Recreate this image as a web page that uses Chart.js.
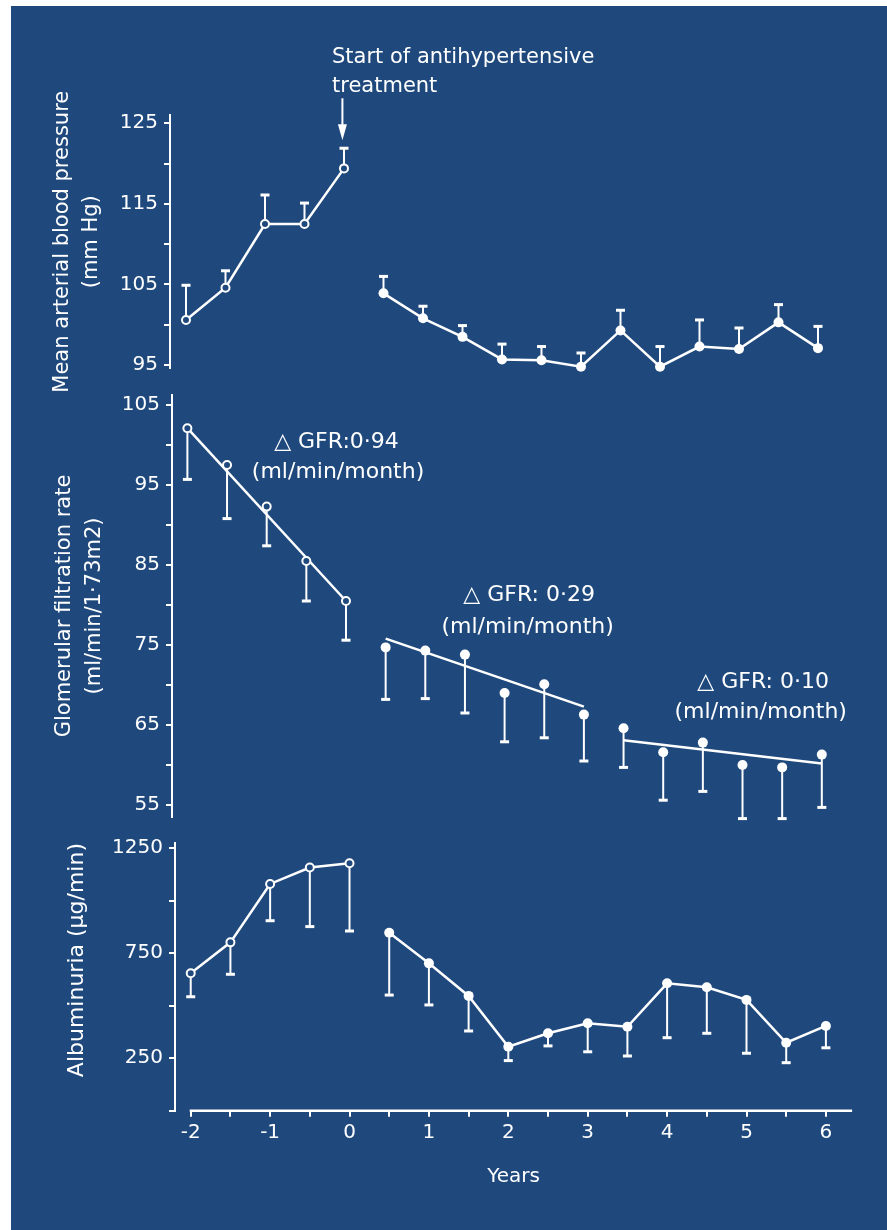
<!DOCTYPE html>
<html>
<head>
<meta charset="utf-8">
<script src="https://cdn.jsdelivr.net/npm/chart.js@4.4.1/dist/chart.umd.min.js"></script>
<style>
  html, body { margin: 0; padding: 0; background: #fff; }
  #page { position: relative; width: 887px; height: 1230px; overflow: hidden; }
  #sheet { position: absolute; left: 11px; top: 6px; right: 0; bottom: 0; background: #1f497d; }
  canvas { position: absolute; left: 0; }
</style>
</head>
<body>
<div id="page">
  <div id="sheet"></div>
  <canvas id="mapChart" width="887" height="392" style="top:0"></canvas>
  <canvas id="gfrChart" width="887" height="470" style="top:370px"></canvas>
  <canvas id="albChart" width="887" height="415" style="top:815px"></canvas>
</div>
<script>
const WHITE = '#ffffff';
const BLUE = '#1f497d';

// years
const yearsPre = [-2, -1.5, -1, -0.5, 0];
const yearsPost = [0.5, 1, 1.5, 2, 2.5, 3, 3.5, 4, 4.5, 5, 5.5, 6];
const yearsGfr1 = [0.5, 1, 1.5, 2, 2.5, 3];
const yearsGfr2 = [3.5, 4, 4.5, 5, 5.5, 6];

// tick marks and the ones that carry a label
const yearTicks = [-2, -1.5, -1, -0.5, 0, 0.5, 1, 1.5, 2, 2.5, 3, 3.5, 4, 4.5, 5, 5.5, 6];
const yearLabels = [-2, -1, 0, 1, 2, 3, 4, 5, 6];
const mapTicks = [95, 100, 105, 110, 115, 120, 125];
const mapLabels = [95, 105, 115, 125];
const gfrTicks = [55, 60, 65, 70, 75, 80, 85, 90, 95, 100, 105];
const gfrLabels = [55, 65, 75, 85, 95, 105];
const albTicks = [0, 250, 500, 750, 1000, 1250];
const albLabels = [250, 750, 1250];

// mean arterial blood pressure (mm Hg), error bar ends (upper)
const mapPre = [100.6, 104.6, 112.5, 112.5, 119.4];
const mapPreTop = [104.9, 106.7, 116.1, 115.1, 121.9];
const mapPost = [103.9, 100.8, 98.5, 95.7, 95.6, 94.8, 99.3, 94.8, 97.3, 97.0, 100.3, 97.1];
const mapPostTop = [106.0, 102.3, 99.9, 97.6, 97.3, 96.5, 101.8, 97.3, 100.6, 99.6, 102.5, 99.8];

// GFR (ml/min/1.73m2), error bar ends (lower)
const gfrPre = [102.1, 97.5, 92.3, 85.5, 80.5];
const gfrPreLow = [95.7, 90.8, 87.4, 80.5, 75.6];
const gfr1 = [74.7, 74.3, 73.8, 69.0, 70.1, 66.3];
const gfr1Low = [68.2, 68.3, 66.5, 62.9, 63.4, 60.5];
const gfr2 = [64.6, 61.6, 62.8, 60.0, 59.7, 61.3];
const gfr2Low = [59.7, 55.6, 56.7, 53.3, 53.3, 54.7];

// regression lines (start, end)
const fitPreX = [-2, 0];
const fitPreY = [102.1, 80.5];
const fit1X = [0.5, 3];
const fit1Y = [75.8, 67.3];
const fit2X = [3.5, 6];
const fit2Y = [63.1, 60.2];

// albuminuria (ug/min), error bar ends (lower)
const albPre = [655, 802, 1080, 1158, 1179];
const albPreLow = [543, 650, 905, 877, 856];
const albPost = [848, 702, 547, 305, 369, 417, 400, 607, 588, 528, 324, 404];
const albPostLow = [551, 504, 380, 239, 309, 281, 261, 348, 369, 274, 229, 300];

Chart.defaults.font.family = '"DejaVu Sans", sans-serif';
Chart.defaults.color = WHITE;
Chart.defaults.animation = false;

const pts = (xs, ys) => xs.map((x, i) => ({x: x, y: ys[i]}));

const openStyle = {
    pointRadius: 4, pointBorderWidth: 2,
    pointBackgroundColor: BLUE, pointBorderColor: WHITE,
    borderColor: WHITE, borderWidth: 2.5, clip: false
};
const fullStyle = {
    pointRadius: 5, pointBorderWidth: 0,
    pointBackgroundColor: WHITE, pointBorderColor: WHITE,
    borderColor: WHITE, borderWidth: 2.5, clip: false
};
const fitStyle = {
    pointRadius: 0, borderColor: WHITE, borderWidth: 2.5, showLine: true, clip: false
};

// vertical SD bars with a small cap, drawn under the markers
const errorBars = {
    id: 'errorBars',
    beforeDatasetsDraw(chart) {
        const {ctx, scales: {y}} = chart;
        ctx.save();
        ctx.strokeStyle = WHITE;
        chart.data.datasets.forEach((ds, i) => {
            if (!ds.errEnd) return;
            chart.getDatasetMeta(i).data.forEach((pt, j) => {
                const yEnd = y.getPixelForValue(ds.errEnd[j]);
                ctx.lineWidth = 2;
                ctx.beginPath();
                ctx.moveTo(pt.x, pt.y);
                ctx.lineTo(pt.x, yEnd);
                ctx.stroke();
                ctx.lineWidth = 3;
                ctx.beginPath();
                ctx.moveTo(pt.x - 4.5, yEnd);
                ctx.lineTo(pt.x + 4.5, yEnd);
                ctx.stroke();
            });
        });
        ctx.restore();
    }
};

// text notes placed in data units
const makeNotes = (items, font, arrow) => ({
    id: 'notes',
    afterDraw(chart) {
        const {ctx, scales: {x, y}} = chart;
        ctx.save();
        ctx.fillStyle = WHITE;
        ctx.strokeStyle = WHITE;
        ctx.font = font;
        ctx.textBaseline = 'middle';
        items.forEach(n => {
            ctx.textAlign = n.align || 'center';
            ctx.fillText(n.text, x.getPixelForValue(n.x), y.getPixelForValue(n.y));
        });
        if (arrow) {
            const ax = x.getPixelForValue(arrow.x);
            const y1 = y.getPixelForValue(arrow.from);
            const y2 = y.getPixelForValue(arrow.to);
            ctx.lineWidth = 2;
            ctx.beginPath();
            ctx.moveTo(ax, y1);
            ctx.lineTo(ax, y2 - 10);
            ctx.stroke();
            ctx.beginPath();
            ctx.moveTo(ax - 4.5, y2 - 16);
            ctx.lineTo(ax + 4.5, y2 - 16);
            ctx.lineTo(ax, y2);
            ctx.closePath();
            ctx.fill();
        }
        ctx.restore();
    }
});

// x axis line starts at year -2, not at the y axis
const baseLine = {
    id: 'baseLine',
    afterDraw(chart) {
        const {ctx, chartArea, scales: {x}} = chart;
        ctx.save();
        ctx.strokeStyle = WHITE;
        ctx.lineWidth = 2.5;
        ctx.beginPath();
        ctx.moveTo(x.getPixelForValue(-2) - 1, chartArea.bottom);
        ctx.lineTo(chartArea.right, chartArea.bottom);
        ctx.stroke();
        ctx.restore();
    }
};

const yAxis = (min, max, tickList, labelList, title, titleFont, width, titleAlign) => ({
    type: 'linear', min: min, max: max,
    afterBuildTicks: s => { s.ticks = tickList.map(v => ({value: v})); },
    ticks: {
        autoSkip: false, color: WHITE, font: {size: 20}, padding: 6,
        callback: v => (labelList.includes(v) ? String(v) : '')
    },
    grid: {drawOnChartArea: false, color: WHITE, lineWidth: 2, tickLength: 6},
    border: {color: WHITE, width: 2},
    title: {display: true, text: title, color: WHITE, font: titleFont, padding: 0,
        align: titleAlign || 'center'},
    afterFit: s => { s.width = width; }
});

const hiddenX = (min, max) => ({type: 'linear', display: false, min: min, max: max});

const baseOptions = (padding, scales) => ({
    responsive: false,
    events: [],
    layout: {padding: padding},
    plugins: {legend: {display: false}, tooltip: {enabled: false}},
    scales: scales
});

// top panel: blood pressure
new Chart(document.getElementById('mapChart'), {
    type: 'scatter',
    data: {
        datasets: [
            {...openStyle, data: pts(yearsPre, mapPre), errEnd: mapPreTop, showLine: true},
            {...fullStyle, data: pts(yearsPost, mapPost), errEnd: mapPostTop, showLine: true}
        ]
    },
    options: baseOptions({left: 48.5, top: 115.2, right: 45.3, bottom: 23.7}, {
        x: hiddenX(-2.2025, 6.3),
        y: yAxis(94.6, 126, mapTicks, mapLabels,
            ['Mean arterial blood pressure', '(mm Hg)'], {size: 21, lineHeight: 1.381}, 121.5)
    }),
    plugins: [errorBars, makeNotes([
        {x: -0.152, y: 133.1, text: 'Start of antihypertensive', align: 'left'},
        {x: -0.152, y: 129.5, text: 'treatment', align: 'left'}
    ], '21px "DejaVu Sans"', {x: -0.02, from: 128.1, to: 122.9})]
});

// middle panel: GFR
new Chart(document.getElementById('gfrChart'), {
    type: 'scatter',
    data: {
        datasets: [
            {...openStyle, data: pts(yearsPre, gfrPre), errEnd: gfrPreLow},
            {...fitStyle, data: pts(fitPreX, fitPreY)},
            {...fullStyle, data: pts(yearsGfr1, gfr1), errEnd: gfr1Low},
            {...fitStyle, data: pts(fit1X, fit1Y)},
            {...fullStyle, data: pts(yearsGfr2, gfr2), errEnd: gfr2Low},
            {...fitStyle, data: pts(fit2X, fit2Y)}
        ]
    },
    options: baseOptions({left: 50, top: 25, right: 41.4, bottom: 23}, {
        x: hiddenX(-2.194, 6.3),
        y: yAxis(53.5, 106.25, gfrTicks, gfrLabels,
            ['Glomerular filtration rate', '(ml/min/1·73m2)'], {size: 21, lineHeight: 1.4286}, 122)
    }),
    plugins: [errorBars, makeNotes([
        {x: -0.12, y: 100.4, text: '△ GFR:0·94'},
        {x: -0.10, y: 96.6, text: '(ml/min/month)'},
        {x: 2.31, y: 81.25, text: '△ GFR: 0·29'},
        {x: 2.29, y: 77.25, text: '(ml/min/month)'},
        {x: 5.26, y: 70.4, text: '△ GFR: 0·10'},
        {x: 5.23, y: 66.6, text: '(ml/min/month)'}
    ], '22px "DejaVu Sans"')]
});

// bottom panel: albuminuria
new Chart(document.getElementById('albChart'), {
    type: 'scatter',
    data: {
        datasets: [
            {...openStyle, data: pts(yearsPre, albPre), errEnd: albPreLow, showLine: true},
            {...fullStyle, data: pts(yearsPost, albPost), errEnd: albPostLow, showLine: true}
        ]
    },
    options: baseOptions({left: 62.7, top: 28, right: 34.9, bottom: 0}, {
        x: {
            type: 'linear', min: -2.198, max: 6.33,
            afterBuildTicks: s => { s.ticks = yearTicks.map(v => ({value: v})); },
            ticks: {
                autoSkip: false, maxRotation: 0,
                color: WHITE, font: {size: 20}, padding: 4,
                callback: v => (yearLabels.includes(v) ? String(v) : '')
            },
            grid: {drawOnChartArea: false, color: WHITE, lineWidth: 2, tickLength: 6},
            border: {display: false},
            title: {display: true, text: 'Years', color: WHITE,
                font: {size: 20, lineHeight: 1.45}, padding: {top: 0, bottom: 38.5}},
            afterFit: s => { s.height = 119.2; }
        },
        y: yAxis(0, 1275, albTicks, albLabels, 'Albuminuria (µg/min)',
            {size: 22, lineHeight: 1.3}, 112.3, 'end')
    }),
    plugins: [errorBars, baseLine]
});
</script>
</body>
</html>
